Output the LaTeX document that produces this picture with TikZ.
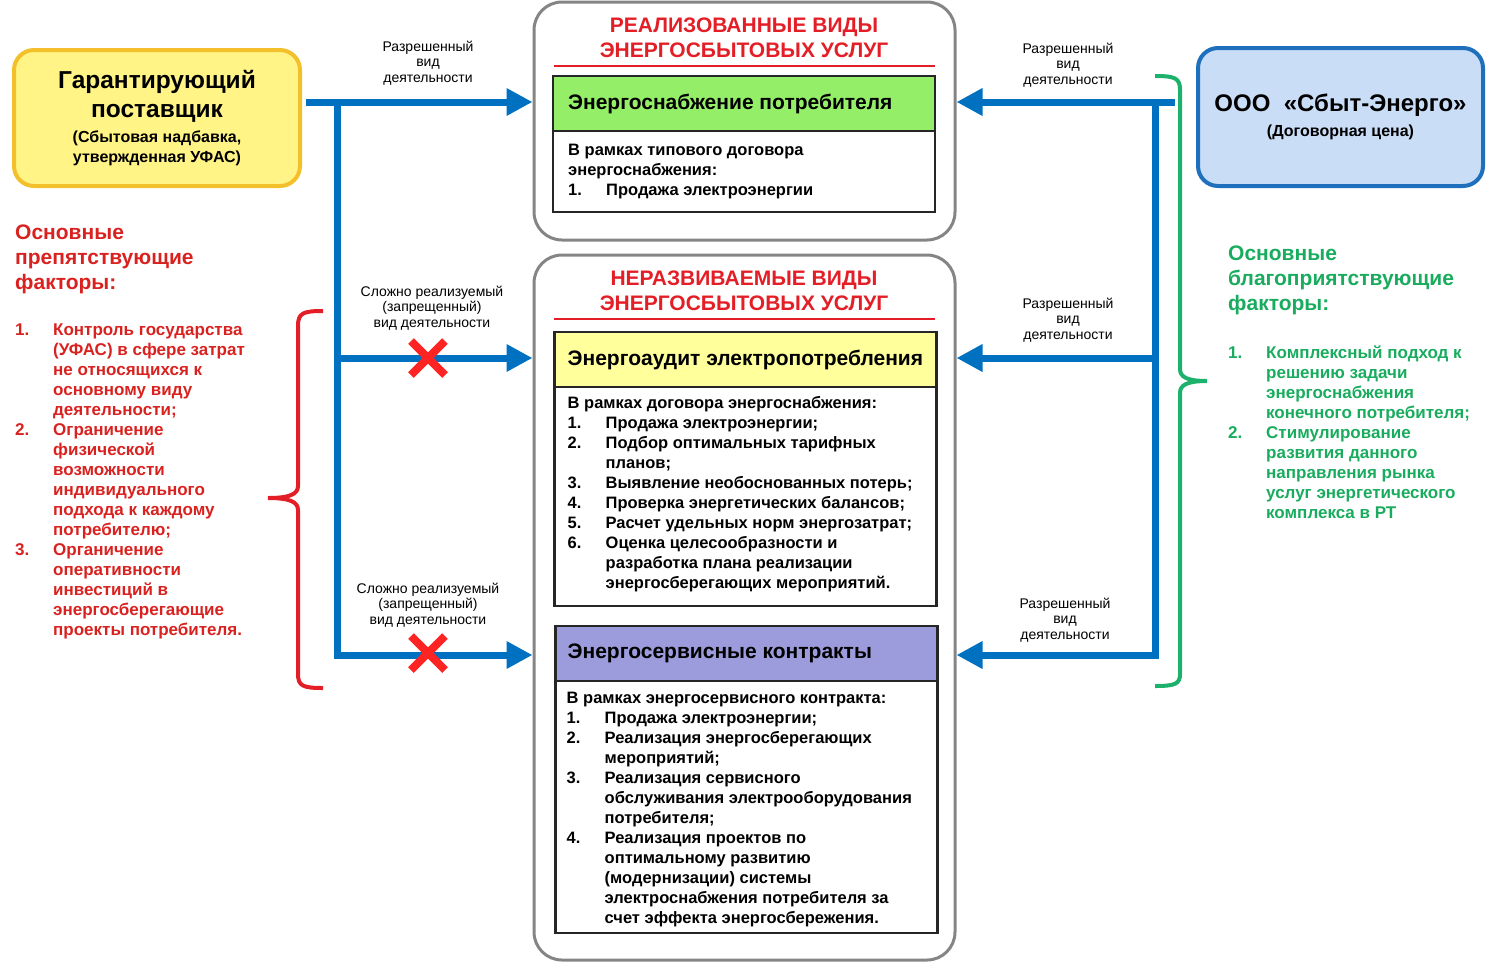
\documentclass[tikz,border=0pt]{standalone}
\usepackage{fontspec}
\setmainfont{Liberation Sans}
\usepackage{xcolor}
\usetikzlibrary{arrows.meta,positioning,shapes.misc}

\definecolor{flowblue}{HTML}{0070C0}
\definecolor{framegray}{HTML}{858585}
\definecolor{boxline}{HTML}{262626}
\definecolor{titlered}{HTML}{E41E26}
\definecolor{factred}{HTML}{D9221F}
\definecolor{factgreen}{HTML}{19AC5E}
\definecolor{bracegreen}{HTML}{1DB26C}
\definecolor{crossred}{HTML}{FF2424}
\definecolor{gpfill}{HTML}{FFF485}
\definecolor{gpline}{HTML}{F3C02B}
\definecolor{sbfill}{HTML}{CADDF6}
\definecolor{sbline}{HTML}{1F70BC}
\definecolor{supplyfill}{HTML}{95EE68}
\definecolor{auditfill}{HTML}{FFFF9C}
\definecolor{servicefill}{HTML}{9C9CDC}

\newcommand{\fs}[2]{\fontsize{#1}{#2}\selectfont}
\newcommand{\nr}[1]{\makebox[38pt][l]{#1}}
\newcommand{\indt}{\hspace*{38pt}}

\begin{document}
\begin{tikzpicture}[x=1pt,y=-1pt,
    flow/.style={draw=flowblue, line width=7pt, -{Triangle[length=26pt,width=26pt]}},
    spine/.style={draw=flowblue, line width=7pt, line cap=rect},
    actlabel/.style={font=\fs{14}{15.5}, align=center, inner sep=0pt},
    brace/.style={line width=4pt, draw=#1}]
        \tikzstyle{groupframe} = [draw=framegray, line width=3pt, rounded corners=28pt, inner sep=0pt, minimum width=421pt]
        \tikzstyle{frametitle} = [font=\bfseries\fs{21}{25}, text=titlered, align=center, inner sep=0pt]
        \tikzstyle{headbox} = [draw=boxline, line width=2.5pt, minimum width=382pt, minimum height=55pt, inner sep=0pt, outer sep=0pt]
        \tikzstyle{bodybox} = [draw=boxline, line width=2.5pt, fill=white, minimum width=382pt, inner sep=0pt, outer sep=0pt]
        \tikzstyle{headtxt} = [font=\bfseries\fs{21}{23}, inner sep=0pt]
        \tikzstyle{bodytxt} = [font=\bfseries\fs{16.5}{20}, align=left, inner sep=0pt]
        \tikzstyle{factors} = [font=\bfseries\fs{17}{20}, align=left, inner sep=0pt, anchor=west]
        \tikzstyle{facthead} = [font=\bfseries\fs{21}{25}, align=left, inner sep=0pt, anchor=west]
        \tikzstyle{nogo} = [cross out, draw=crossred, line width=8pt, minimum size=26pt, inner sep=0pt]
        \tikzstyle{party} = [line width=4pt, rounded corners=20pt, align=center, font=\bfseries\fs{16}{20}]

        \useasboundingbox (0,0) rectangle (1496,962);

        % two groups of services
        \node[groupframe, minimum height=238pt] (realised) at (744.5,121) {};
        \node[groupframe, minimum height=705pt] (undeveloped) at (744.5,607.5) {};

        \node[frametitle] (realisedtitle) at (744,37.5) {РЕАЛИЗОВАННЫЕ ВИДЫ\\ЭНЕРГОСБЫТОВЫХ УСЛУГ};
        \node[frametitle] (undevtitle) at (744,291) {НЕРАЗВИВАЕМЫЕ ВИДЫ\\ЭНЕРГОСБЫТОВЫХ УСЛУГ};
        \draw[titlered, line width=2.5pt] (554,66) -- (935,66);
        \draw[titlered, line width=2.5pt] (554,319) -- (935,319);

        \node[headbox, fill=supplyfill] (supply) at (744,103.5) {};
        \node[bodybox, minimum height=81pt, below=0pt of supply] (supplybody) {};
        \node[headbox, fill=auditfill] (audit) at (745.5,359.5) {};
        \node[bodybox, minimum height=219pt, below=0pt of audit] (auditbody) {};
        \node[headbox, fill=servicefill] (service) at (746.5,653.5) {};
        \node[bodybox, minimum height=252pt, below=0pt of service] (servicebody) {};

        \node[headtxt, right=15pt of supply.west] (supplyhead) {Энергоснабжение потребителя};
        \node[headtxt, right=13pt of audit.west] (audithead) {Энергоаудит электропотребления};
        \node[headtxt, right=12pt of service.west] (servicehead) {Энергосервисные контракты};

        \node[bodytxt, right=15pt of supplybody.west] (supplylist) {В рамках типового договора\\
            энергоснабжения:\\
            \nr{1.}Продажа электроэнергии};
        \node[bodytxt, right=13pt of auditbody.west, yshift=2pt] (auditlist) {В рамках договора энергоснабжения:\\
            \nr{1.}Продажа электроэнергии;\\
            \nr{2.}Подбор оптимальных тарифных\\
            \indt планов;\\
            \nr{3.}Выявление необоснованных потерь;\\
            \nr{4.}Проверка энергетических балансов;\\
            \nr{5.}Расчет удельных норм энергозатрат;\\
            \nr{6.}Оценка целесообразности и\\
            \indt разработка плана реализации\\
            \indt энергосберегающих мероприятий.};
        \node[bodytxt, right=11pt of servicebody.west, yshift=-3pt] (servicelist) {В рамках энергосервисного контракта:\\
            \nr{1.}Продажа электроэнергии;\\
            \nr{2.}Реализация энергосберегающих\\
            \indt мероприятий;\\
            \nr{3.}Реализация сервисного\\
            \indt обслуживания электрооборудования\\
            \indt потребителя;\\
            \nr{4.}Реализация проектов по\\
            \indt оптимальному развитию\\
            \indt (модернизации) системы\\
            \indt электроснабжения потребителя за\\
            \indt счет эффекта энергосбережения.};

        % suppliers
        \node[party, draw=gpline, fill=gpfill, minimum width=286pt, minimum height=136pt] (gp) at (157,118)
            {\fs{24.5}{29}Гарантирующий\\[9pt] \fs{24.5}{29}поставщик\\[5pt] (Сбытовая надбавка,\\ утвержденная УФАС)};
        \node[party, draw=sbline, fill=sbfill, minimum width=285pt, minimum height=138pt] (sbyt) at (1340.5,117)
            {\fs{24}{27}ООО\ \ «Сбыт-Энерго»\\[5pt] (Договорная цена)};

        % left connectors
        \coordinate (gpout) at (306,102);
        \coordinate (ls1) at (337,102);
        \coordinate (ls2) at (337,358);
        \coordinate (ls3) at (337,655);
        \draw[spine] (ls1) -- (ls3);
        \draw[flow] (gpout) -- (realised.west |- ls1);
        \draw[flow] (ls2) -- (undeveloped.west |- ls2);
        \draw[flow] (ls3) -- (undeveloped.west |- ls3);
        \node[nogo] (cross1) at (428,358) {};
        \node[nogo] (cross2) at (428,653) {};

        \node[actlabel] (allowleft) at (428,63) {Разрешенный\\вид\\деятельности};
        \node[actlabel] (hard1) at (432,308) {Сложно реализуемый\\(запрещенный)\\вид деятельности};
        \node[actlabel] (hard2) at (428,605) {Сложно реализуемый\\(запрещенный)\\вид деятельности};

        % right connectors
        \coordinate (sbout) at (1175,102);
        \coordinate (rs1) at (1155,102);
        \coordinate (rs2) at (1155,358);
        \coordinate (rs3) at (1155,655);
        \draw[spine] (rs1) -- (rs3);
        \draw[flow] (sbout) -- (realised.east |- rs1);
        \draw[flow] (rs2) -- (undeveloped.east |- rs2);
        \draw[flow] (rs3) -- (undeveloped.east |- rs3);

        \node[actlabel] (allow1) at (1068,65) {Разрешенный\\вид\\деятельности};
        \node[actlabel] (allow2) at (1068,320) {Разрешенный\\вид\\деятельности};
        \node[actlabel] (allow3) at (1065,620) {Разрешенный\\вид\\деятельности};

        % factors
        \node[facthead, text=factred] (againsthead) at (15,259) {Основные\\препятствующие\\факторы:};
        \node[factors, text=factred] (against) at (15,481) {\nr{1.}Контроль государства\\
            \indt(УФАС) в сфере затрат\\
            \indt не относящихся к\\
            \indt основному виду\\
            \indt деятельности;\\
            \nr{2.}Ограничение\\
            \indt физической\\
            \indt возможности\\
            \indt индивидуального\\
            \indt подхода к каждому\\
            \indt потребителю;\\
            \nr{3.}Органичение\\
            \indt оперативности\\
            \indt инвестиций в\\
            \indt энергосберегающие\\
            \indt проекты потребителя.};
        \node[facthead, text=factgreen] (forhead) at (1228,280) {Основные\\благоприятствующие\\факторы:};
        \node[factors, text=factgreen] (for) at (1228,432) {\nr{1.}Комплексный подход к\\
            \indt решению задачи\\
            \indt энергоснабжения\\
            \indt конечного потребителя;\\
            \nr{2.}Стимулирование\\
            \indt развития данного\\
            \indt направления рынка\\
            \indt услуг энергетического\\
            \indt комплекса в РТ};

        % braces
        \draw[brace=titlered] (323,311) .. controls (303,311) and (298,313) .. (298,326) -- (298,486) .. controls (298,494) and (290,498) .. (268,498)
            .. controls (290,498) and (298,502) .. (298,510) -- (298,674) .. controls (298,686) and (303,688) .. (323,688);
        \draw[brace=bracegreen] (1155,76) .. controls (1175,76) and (1180,78) .. (1180,90) -- (1180,369) .. controls (1180,377) and (1187,381) .. (1207,381)
            .. controls (1187,381) and (1180,385) .. (1180,393) -- (1180,674) .. controls (1180,684) and (1175,686) .. (1155,686);
\end{tikzpicture}
\end{document}
